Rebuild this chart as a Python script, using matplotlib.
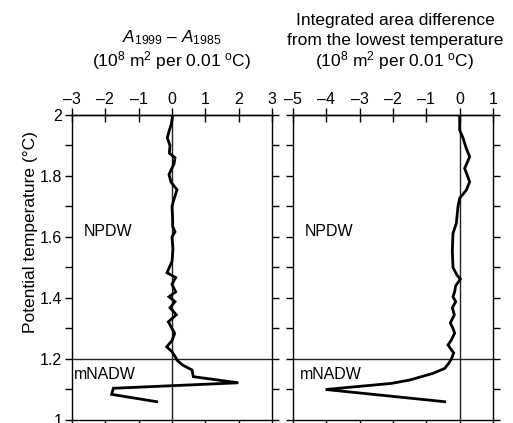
import matplotlib
matplotlib.use("Agg")
import matplotlib.pyplot as plt
import numpy as np

plt.rcParams['font.family'] = ['Liberation Sans', 'DejaVu Sans']
plt.rcParams['mathtext.fontset'] = 'custom'
plt.rcParams['mathtext.rm'] = 'Liberation Sans'
plt.rcParams['mathtext.it'] = 'Liberation Sans:italic'

# Left panel: A1999 - A1985
temp_left = [2.00, 1.97, 1.95, 1.925, 1.90, 1.875, 1.86, 1.84, 1.805, 1.78,
             1.755, 1.72, 1.70, 1.66, 1.635, 1.617, 1.60, 1.56, 1.52, 1.483,
             1.467, 1.445, 1.42, 1.404, 1.388, 1.368, 1.345, 1.322, 1.30, 1.284,
             1.26, 1.24, 1.224, 1.205, 1.195, 1.18, 1.164, 1.142, 1.122, 1.104,
             1.084, 1.06]
diff_left = [0.02, -0.02, -0.08, -0.14, -0.06, -0.08, 0.09, 0.06, -0.09, -0.03,
             0.15, 0.05, 0.00, 0.02, 0.02, 0.09, 0.00, 0.03, 0.00, -0.15,
             0.11, 0.00, 0.11, -0.09, 0.09, -0.06, 0.13, -0.11, 0.00, 0.08,
             0.00, -0.16, 0.00, 0.11, 0.16, 0.32, 0.60, 0.64, 1.99, -1.76,
             -1.81, -0.46]

# Right panel: integrated area difference from the lowest temperature
temp_right = [2.00, 1.95, 1.925, 1.89, 1.863, 1.825, 1.781, 1.754, 1.727, 1.70,
              1.645, 1.612, 1.557, 1.50, 1.475, 1.462, 1.44, 1.421, 1.404, 1.388,
              1.368, 1.345, 1.318, 1.30, 1.285, 1.262, 1.246, 1.22, 1.20, 1.187,
              1.169, 1.153, 1.131, 1.120, 1.10, 1.06]
diff_right = [0.00, 0.00, 0.10, 0.20, 0.30, 0.15, 0.30, 0.20, 0.00, -0.05,
              -0.10, -0.20, -0.22, -0.20, -0.08, 0.02, -0.12, -0.15, -0.20, -0.12,
              -0.22, -0.16, -0.28, -0.20, -0.15, -0.25, -0.35, -0.18, -0.25, -0.32,
              -0.45, -0.80, -1.50, -2.05, -4.02, -0.45]

left_xticks = [-3, -2, -1, 0, 1, 2, 3]
right_xticks = [-5, -4, -3, -2, -1, 0, 1]
yticks = [1.0, 1.2, 1.4, 1.6, 1.8, 2.0]
ytick_labels = ['1', '1.2', '1.4', '1.6', '1.8', '2']

W, H = 513, 423
fig = plt.figure(figsize=(W / 100, H / 100), dpi=100)

def px_axes(x0, x1, ytop, ybot):
    return fig.add_axes([x0 / W, 1 - ybot / H, (x1 - x0) / W, (ybot - ytop) / H])

axL = px_axes(72, 272, 115, 420)
axR = px_axes(293, 493, 115, 420)

for ax, x, y, xt, xlim in [(axL, diff_left, temp_left, left_xticks, (-3, 3)),
                           (axR, diff_right, temp_right, right_xticks, (-5, 1))]:
    ax.set_xlim(*xlim)
    ax.set_ylim(1.0, 2.0)
    ax.axvline(0, color='#222222', lw=1.0, zorder=1)
    ax.axhline(1.2, color='#222222', lw=1.0, zorder=1)
    ax.plot(x, y, color='black', lw=2.0, zorder=3, solid_joinstyle='miter')
    for s in ax.spines.values():
        s.set_linewidth(1.0)
    ax.set_xticks(xt)
    ax.tick_params(axis='x', which='both', bottom=True, top=False,
                   labelbottom=False, direction='out', length=4, width=1)
    sec = ax.secondary_xaxis('top')
    sec.set_xticks(xt)
    sec.set_xticklabels([str(v).replace('-', '\u2013') for v in xt])
    sec.tick_params(direction='inout', length=10, width=1, labelsize=11.5, pad=1)
    sec.spines['top'].set_linewidth(1.0)
    ax.set_yticks(yticks)
    ax.set_yticks(np.arange(1.1, 2.0, 0.2), minor=True)
    ax.tick_params(axis='y', which='both', left=True, right=True,
                   direction='out', length=5, width=1, labelsize=11.5, pad=2)

axL.set_yticklabels(ytick_labels)
axR.tick_params(axis='y', labelleft=False)

axL.set_ylabel('Potential temperature (\u00b0C)', fontsize=12.5)
axL.yaxis.set_label_coords(-0.17, 0.616)

axL.text(-2.64, 1.617, 'NPDW', fontsize=11.5, va='center', ha='left')
axL.text(-2.94, 1.148, 'mNADW', fontsize=11.5, va='center', ha='left')
axR.text(-4.64, 1.617, 'NPDW', fontsize=11.5, va='center', ha='left')
axR.text(-4.8, 1.148, 'mNADW', fontsize=11.5, va='center', ha='left')

fig.text(172 / W, 1 - 38 / H, '$A_{\\mathrm{1999}}$ \u2013 $A_{\\mathrm{1985}}$',
         ha='center', va='center', fontsize=12.5)
fig.text(172 / W, 1 - 61 / H, r'(10$^{8}$ m$^{2}$ per 0.01 $^{\mathrm{o}}$C)',
         ha='center', va='center', fontsize=12.5)
fig.text(395 / W, 1 - 20 / H, 'Integrated area difference',
         ha='center', va='center', fontsize=12.5)
fig.text(395 / W, 1 - 41 / H, 'from the lowest temperature',
         ha='center', va='center', fontsize=12.5)
fig.text(395 / W, 1 - 61 / H, r'(10$^{8}$ m$^{2}$ per 0.01 $^{\mathrm{o}}$C)',
         ha='center', va='center', fontsize=12.5)

fig.savefig('out.png', dpi=100)
